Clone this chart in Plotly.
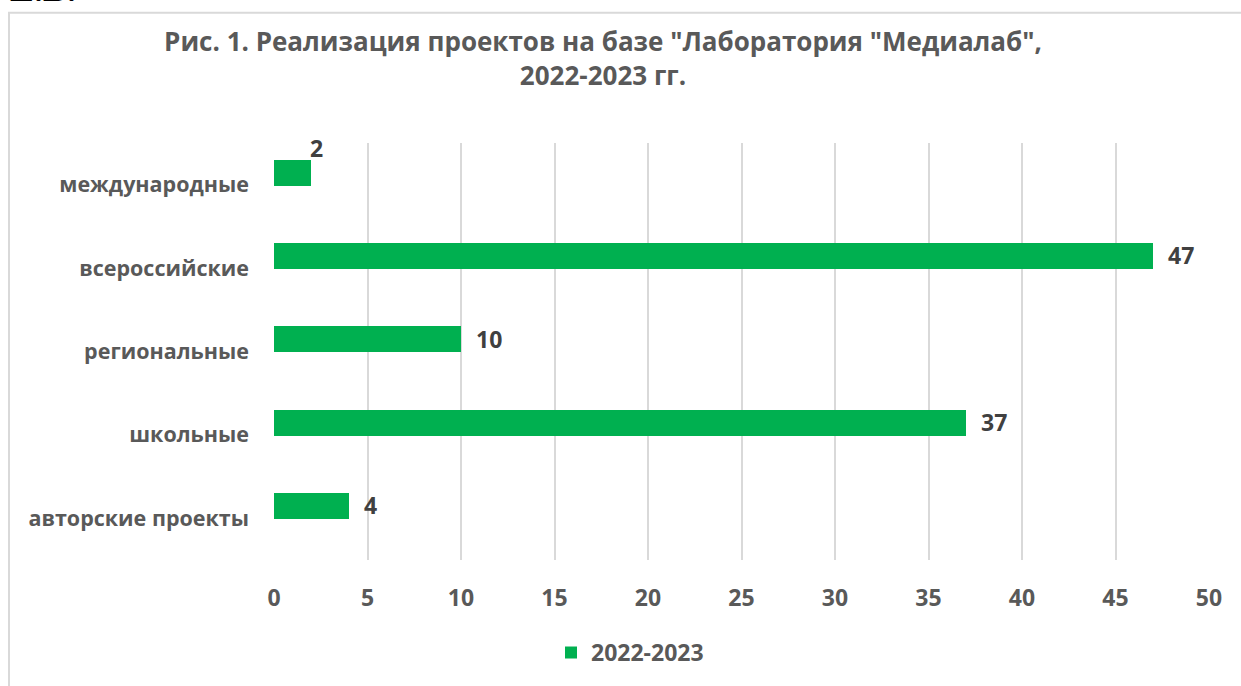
import plotly.graph_objects as go

categories = ["авторские проекты", "школьные", "региональные", "всероссийские", "международные"]
values = [4, 37, 10, 47, 2]
x_ticks = [0, 5, 10, 15, 20, 25, 30, 35, 40, 45, 50]
series_name = "2022-2023"
title_text = "Рис. 1. Реализация проектов на базе \"Лаборатория \"Медиалаб\",<br>2022-2023 гг."

W, H = 1241, 686
L, R, T, B = 274, 1209, 143, 562
pw, ph = R - L, B - T

def px_x(p):
    return (p - L) / pw

def px_y(p):
    return (B - p) / ph

FONT = "Open Sans"
GRAY = "#595959"
GREEN = "#00b050"

fig = go.Figure()
fig.add_trace(go.Bar(
    y=categories, x=values, orientation="h", name=series_name,
    marker=dict(color=GREEN, line=dict(width=0)),
    width=0.31, offset=-0.01, hoverinfo="skip",
))

annotations = []
for c, v in zip(categories, values):
    if v < 3:
        annotations.append(dict(x=v, y=c, xref="x", yref="y", text=f"<b>{v}</b>",
                                showarrow=False, xanchor="center", yanchor="middle",
                                xshift=5, yshift=37,
                                font=dict(family=FONT, size=23, color="#404040")))
    else:
        annotations.append(dict(x=v, y=c, xref="x", yref="y", text=f"<b>{v}</b>",
                                showarrow=False, xanchor="left", yanchor="middle",
                                xshift=13, yshift=13,
                                font=dict(family=FONT, size=23, color="#404040")))

annotations.append(dict(x=px_x(8), y=px_y(10), xref="paper", yref="paper",
                        text="<b>Е.В.</b>", showarrow=False, xanchor="left", yanchor="bottom",
                        font=dict(family="Liberation Serif", size=36, color="#000000")))

fig.update_layout(
    width=W, height=H,
    margin=dict(l=L, r=W - R, t=T, b=H - B, pad=0),
    paper_bgcolor="white", plot_bgcolor="white",
    title=dict(text=f"<b>{title_text}</b>", x=603 / W, xanchor="center", xref="container",
               y=1 - 51 / H, yanchor="top", yref="container",
               font=dict(family=FONT, size=26, color=GRAY)),
    xaxis=dict(range=[0, 50], tickvals=x_ticks, showgrid=True, gridcolor="#d9d9d9", gridwidth=2,
               zeroline=False, showline=False, ticks="", ticklabelstandoff=22,
               tickfont=dict(family=FONT, size=23, color=GRAY, weight="bold"), fixedrange=True),
    yaxis=dict(type="category", categoryorder="array", categoryarray=categories,
               range=[-0.5, len(categories) - 0.5],
               showgrid=False, zeroline=False, showline=False, ticks="", ticklabelstandoff=24,
               tickfont=dict(family=FONT, size=21.5, color=GRAY, weight="bold"), fixedrange=True),
    showlegend=True,
    legend=dict(orientation="h", x=px_x(551), y=px_y(655), xanchor="left", yanchor="middle",
                font=dict(family=FONT, size=23, color=GRAY, weight="bold"),
                itemwidth=30, bgcolor="rgba(0,0,0,0)"),
    annotations=annotations,
    shapes=[dict(type="rect", xref="paper", yref="paper",
                 x0=px_x(9), y0=px_y(720), x1=px_x(1300), y1=px_y(12),
                 line=dict(color="#d9d9d9", width=2), fillcolor="rgba(0,0,0,0)", layer="below")],
    bargap=0,
)

fig.write_html("out.html", config={"displayModeBar": False},
               post_script="document.body.style.margin='0';document.body.style.overflow='hidden';")
